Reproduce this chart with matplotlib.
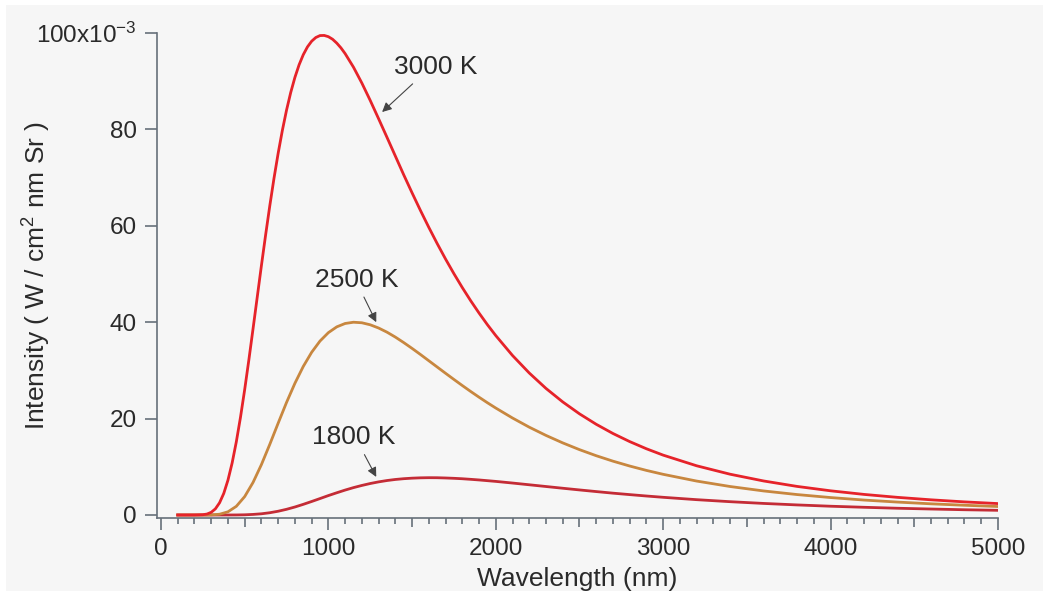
import matplotlib
matplotlib.use('Agg')
import matplotlib.pyplot as plt
from matplotlib.patches import Rectangle
from matplotlib.ticker import MultipleLocator

plt.rcParams['font.family'] = ['Liberation Sans', 'DejaVu Sans']
plt.rcParams['mathtext.fontset'] = 'custom'
plt.rcParams['mathtext.rm'] = 'Liberation Sans'
plt.rcParams['mathtext.it'] = 'Liberation Sans:italic'

# ========== data (units 1e-3 W/cm2 nm Sr) ==========
# 3000 K is read more densely around its sharp peak
wl_3000 = [100, 150, 200, 250, 275, 300, 325, 350, 375, 400, 425, 450, 475, 500, 525,
           550, 575, 600, 625, 650, 675, 700, 725, 750, 775, 800, 825, 850, 875, 900,
           925, 950, 975, 1000, 1025, 1050, 1075, 1100, 1150, 1200, 1250, 1300, 1350,
           1400, 1450, 1500, 1550, 1600, 1650, 1700, 1750, 1800, 1850, 1900, 1950,
           2000, 2100, 2200, 2300, 2400, 2500, 2600, 2700, 2800, 2900, 3000,
           3200, 3400, 3600, 3800, 4000, 4200, 4400, 4600, 4800, 5000]
i_3000 = [0, 0, 0.001, 0.06, 0.20, 0.56, 1.28, 2.54, 4.48, 7.22, 10.79, 15.18, 20.29, 26.02, 32.19,
          38.65, 45.21, 51.76, 58.09, 64.15, 69.83, 75.05, 79.78, 83.99, 87.65, 90.78, 93.39, 95.49, 97.11, 98.29,
          99.06, 99.46, 99.49, 99.23, 98.70, 97.90, 96.91, 95.72, 92.90, 89.61, 86.00, 82.21, 78.36,
          74.47, 70.58, 66.83, 63.18, 59.67, 56.31, 53.10, 50.06, 47.18, 44.46, 41.90, 39.48,
          37.22, 33.09, 29.46, 26.26, 23.46, 20.99, 18.82, 16.91, 15.23, 13.74, 12.42,
          10.21, 8.46, 7.06, 5.93, 5.02, 4.27, 3.66, 3.15, 2.72, 2.37]

wavelength = [100, 150, 200, 250, 300, 350, 400, 450, 500, 550, 600, 650, 700, 750,
              800, 850, 900, 950, 1000, 1050, 1100, 1150, 1200, 1250, 1300, 1350,
              1400, 1450, 1500, 1550, 1600, 1650, 1700, 1750, 1800, 1850, 1900, 1950,
              2000, 2100, 2200, 2300, 2400, 2500, 2600, 2700, 2800, 2900, 3000,
              3200, 3400, 3600, 3800, 4000, 4200, 4400, 4600, 4800, 5000]
i_2500 = [0, 0, 0, 0.001, 0.02, 0.16, 0.66, 1.80, 3.82, 6.76, 10.46, 14.66, 19.05, 23.35,
          27.32, 30.82, 33.75, 36.09, 37.83, 39.03, 39.73, 39.99, 39.88, 39.46, 38.79, 37.93,
          36.91, 35.77, 34.56, 33.30, 32.00, 30.70, 29.40, 28.12, 26.86, 25.63, 24.44, 23.29,
          22.19, 20.12, 18.22, 16.51, 14.96, 13.56, 12.30, 11.17, 10.16, 9.25, 8.44,
          7.04, 5.91, 4.99, 4.24, 3.62, 3.10, 2.68, 2.32, 2.02, 1.76]
i_1800 = [0, 0, 0, 0, 0, 0, 0.002, 0.01, 0.04, 0.12, 0.25, 0.47, 0.78, 1.18,
          1.66, 2.21, 2.80, 3.41, 4.03, 4.61, 5.17, 5.68, 6.13, 6.53, 6.87, 7.15,
          7.37, 7.53, 7.64, 7.71, 7.74, 7.73, 7.68, 7.61, 7.52, 7.40, 7.27, 7.12,
          6.97, 6.63, 6.27, 5.91, 5.55, 5.20, 4.86, 4.53, 4.23, 3.94, 3.67,
          3.18, 2.76, 2.40, 2.09, 1.82, 1.60, 1.40, 1.24, 1.09, 0.97]

y_ticks = [0, 20, 40, 60, 80, 100]
y_ticklabels = ['0', '20', '40', '60', '80', '100x10$^{-3}$']
x_ticks = [0, 500, 1000, 1500, 2000, 2500, 3000, 3500, 4000, 4500, 5000]
x_ticklabels = ['0', '', '1000', '', '2000', '', '3000', '', '4000', '', '5000']

AX_COL = '#66707a'
TXT_COL = '#2a2a2a'

fig = plt.figure(figsize=(10.43, 5.93), dpi=100)
fig.patch.set_facecolor('white')
fig.patches.append(Rectangle((6 / 1043, 2 / 593), 1 - 6 / 1043, 586 / 593,
                             transform=fig.transFigure, facecolor='#f6f6f6',
                             edgecolor='none', zorder=-10))

ax = fig.add_axes([0.1505, 0.1265, 0.8063, 0.8179])
ax.set_facecolor('none')
ax.set_zorder(5)

ax.plot(wavelength, i_1800, color='#c42c36', lw=2.0, zorder=3)
ax.plot(wavelength, i_2500, color='#c8873f', lw=2.0, zorder=3)
ax.plot(wl_3000, i_3000, color='#e6232a', lw=2.0, zorder=3)

ax.set_xlim(-24, 5000)
ax.set_ylim(-0.62, 100)

for s in ['top', 'right']:
    ax.spines[s].set_visible(False)
for s in ['left', 'bottom']:
    ax.spines[s].set_color(AX_COL)
    ax.spines[s].set_linewidth(1.2)

ax.set_yticks(y_ticks)
ax.set_yticklabels(y_ticklabels)
ax.set_xticks(x_ticks)
ax.set_xticklabels(x_ticklabels)
ax.xaxis.set_minor_locator(MultipleLocator(100))

ax.tick_params(axis='both', which='major', direction='out', length=8.6, width=1.2,
               color=AX_COL, labelcolor=TXT_COL, labelsize=17.5, pad=6)
ax.tick_params(axis='x', which='minor', direction='out', length=4.3, width=1.2,
               color=AX_COL)
# half-way ticks a bit shorter
for t, lab in zip(ax.xaxis.get_major_ticks(), x_ticklabels):
    if lab == '':
        t.tick1line.set_markersize(6.5)

ax.set_xlabel('Wavelength (nm)', fontsize=19, color=TXT_COL, va='top')
ax.xaxis.set_label_coords(0.5, -0.101)
ax.set_ylabel('Intensity ( W / cm$^2$ nm Sr )', fontsize=19, color=TXT_COL)
ax.yaxis.set_label_coords(-0.124, 0.5)

arrow = dict(arrowstyle='-|>', color='#444444', lw=0.8, mutation_scale=14, shrinkA=2, shrinkB=0)
ax.annotate('3000 K', xy=(1321, 83.6), xytext=(1643, 92.9), fontsize=19, color=TXT_COL,
            ha='center', va='center',
            arrowprops=dict(arrow, relpos=(0.28, 0)))
ax.annotate('2500 K', xy=(1286, 40.0), xytext=(1167, 48.8), fontsize=19, color=TXT_COL,
            ha='center', va='center',
            arrowprops=dict(arrow, relpos=(0.56, 0)))
ax.annotate('1800 K', xy=(1286, 7.9), xytext=(1149, 16.1), fontsize=19, color=TXT_COL,
            ha='center', va='center',
            arrowprops=dict(arrow, relpos=(0.6, 0)))

plt.savefig('out.png', dpi=100)
plt.close()
